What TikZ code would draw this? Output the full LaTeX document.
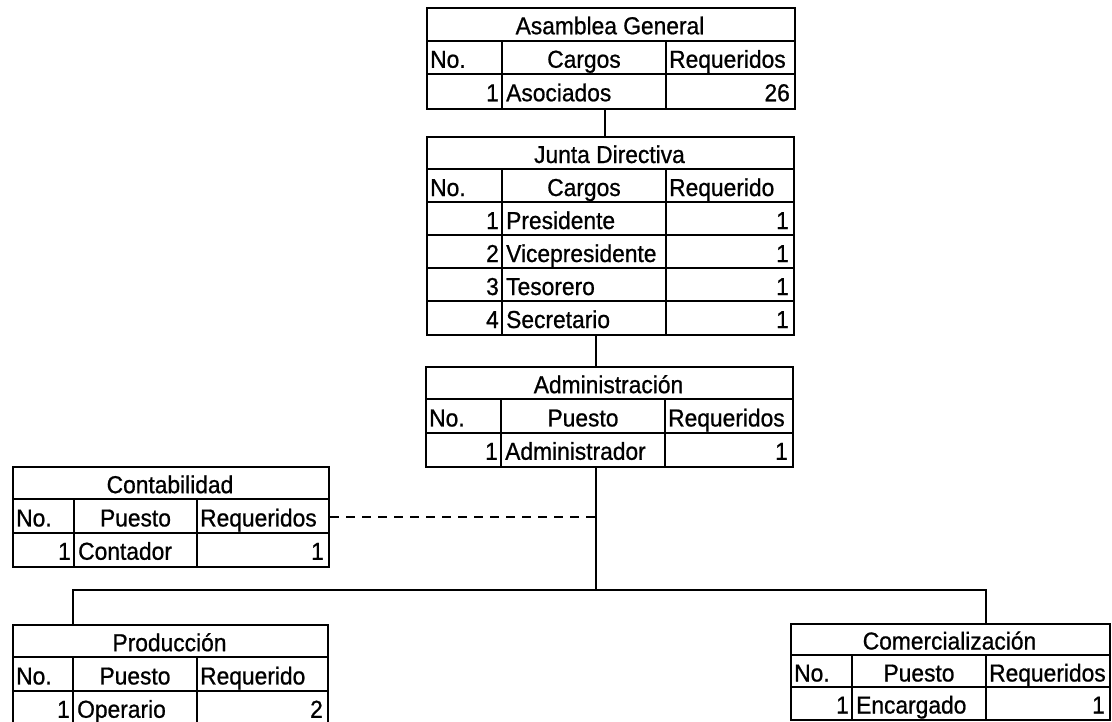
\documentclass[tikz,border=0pt]{standalone}
\usepackage{fontspec}
\setmainfont[FakeStretch=0.93, FakeBold=0.8]{Liberation Sans}
\tikzset{
  frame/.style={draw=black, line width=2pt, inner sep=0pt, fill=none},
  tline/.style={draw=black, line width=2pt},
  conn/.style={draw=black, line width=2pt},
  txt/.style={inner sep=0pt, text height=17pt, text depth=0pt, font=\fontsize{24.5}{28}\selectfont, text=black}
}
% #1 name #2 x0 #3 x1 #4 x2 #5 x3 #6 y0 #7 row height #8 rows #9 title
\newcommand{\mktable}[9]{%
  \def\tn{#1}\def\tx{#2}\def\ta{#3}\def\tb{#4}\def\tc{#5}\def\ty{#6}\def\th{#7}%
  \node[frame, minimum width={(#5-#2)*1pt}, minimum height={#7*#8*1pt}, anchor=north west] (#1) at (#2,#6) {};
  \pgfmathtruncatemacro\lastk{#8-1}%
  \foreach \k in {1,...,\lastk} {\draw[tline] (#2,{#6+\k*#7}) -- (#5,{#6+\k*#7});}
  \draw[tline] (#3,{#6+#7}) -- (#3,{#6+#8*#7});
  \draw[tline] (#4,{#6+#7}) -- (#4,{#6+#8*#7});
  \node[txt] (#1-title) at ({(#2+#5)/2},{#6+#7/2+2}) {#9};
}
\newcommand{\thead}[2]{%
  \node[txt, anchor=west] (\tn-no) at ({\tx+4},{\ty+1.5*\th+2}) {No.};
  \node[txt] (\tn-c2) at ({(\ta+\tb)/2},{\ty+1.5*\th+2}) {#1};
  \node[txt, anchor=west] (\tn-c3) at ({\tb+3},{\ty+1.5*\th+2}) {#2};
}
\newcommand{\trow}[4]{%
  \node[txt, anchor=east] (\tn-n#2) at ({\ta-3},{\ty+(2.5+#1)*\th+2}) {#2};
  \node[txt, anchor=west] (\tn-p#2) at ({\ta+4},{\ty+(2.5+#1)*\th+2}) {#3};
  \node[txt, anchor=east] (\tn-v#2) at ({\tc-4},{\ty+(2.5+#1)*\th+2}) {#4};
}
\begin{document}
\begin{tikzpicture}[x=1pt, y=-1pt]
\useasboundingbox[fill=white] (0,0) rectangle (1112,721);

\mktable{asam}{426}{502}{666}{794}{7}{33.5}{3}{Asamblea General}
\thead{Cargos}{Requeridos}
\trow{0}{1}{Asociados}{26}

\mktable{junta}{426}{502}{666}{793}{136}{33}{6}{Junta Directiva}
\thead{Cargos}{Requerido}
\trow{0}{1}{Presidente}{1}
\trow{1}{2}{Vicepresidente}{1}
\trow{2}{3}{Tesorero}{1}
\trow{3}{4}{Secretario}{1}

\mktable{admin}{425}{501}{665}{792}{366}{33.3}{3}{Administración}
\thead{Puesto}{Requeridos}
\trow{0}{1}{Administrador}{1}

\mktable{conta}{12}{74}{197}{328}{466}{33.3}{3}{Contabilidad}
\thead{Puesto}{Requeridos}
\trow{0}{1}{Contador}{1}

\mktable{prod}{12}{73}{197}{327}{624}{33.3}{3}{Producción}
\thead{Puesto}{Requerido}
\trow{0}{1}{Operario}{2}

\mktable{comer}{790}{852}{986}{1109}{623}{32}{3}{Comercialización}
\thead{Puesto}{Requeridos}
\trow{0}{1}{Encargado}{1}

% connectors
\coordinate (aj) at (605,120);
\coordinate (bus) at (596,590);
\coordinate (busL) at (73,590);
\coordinate (busR) at (986,590);
\draw[conn] (asam.south -| aj) -- (junta.north -| aj);
\draw[conn] (junta.south -| bus) -- (admin.north -| bus);
\draw[conn] (admin.south -| bus) -- (bus);
\draw[conn] (prod.north -| busL) -- (busL) -- (busR) -- (comer.north -| busR);
\draw[conn, dash pattern=on 9pt off 7pt] (conta.east) -- (conta.east -| bus);
\end{tikzpicture}
\end{document}
